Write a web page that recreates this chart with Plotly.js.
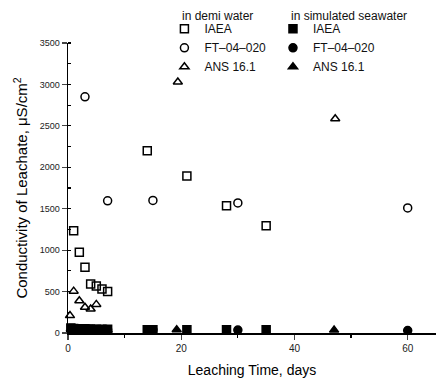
<!DOCTYPE html>
<html>
<head>
<meta charset="utf-8">
<script src="https://cdn.plot.ly/plotly-3.0.1.min.js"></script>
<style>html,body{margin:0;padding:0;background:#fff;}#chart{width:436px;height:384px;}</style>
</head>
<body>
<div id="chart"></div>
<script>
// demi water
const demiIaeaT = [1, 2, 3, 4, 5, 6, 7, 14, 21, 28, 35];
const demiIaeaV = [1235, 975, 795, 590, 567, 530, 500, 2200, 1895, 1535, 1295];
const demiFtT = [3, 7, 15, 30, 60];
const demiFtV = [2850, 1595, 1600, 1570, 1510];
const demiAnsT = [0.35, 1, 2, 3, 4, 5, 19.4, 47.2];
const demiAnsV = [210, 505, 390, 310, 290, 345, 3030, 2585];
// simulated seawater
const seaIaeaT = [0.5, 1, 2, 3, 4, 5, 6, 7, 14, 15, 21, 28, 35];
const seaIaeaV = [60, 55, 50, 50, 48, 45, 45, 45, 40, 40, 38, 40, 38];
const seaFtT = [1, 2, 3, 4, 5, 6, 7, 15, 30, 60];
const seaFtV = [50, 48, 45, 45, 42, 40, 40, 38, 35, 30];
const seaAnsT = [0.5, 1, 2, 3, 4, 5, 6, 7, 19.2, 47];
const seaAnsV = [45, 45, 42, 40, 40, 38, 38, 36, 40, 35];
const names = ['IAEA', 'FT\u201304\u2013020', 'ANS 16.1'];
const groupHeaders = ['in demi water', 'in simulated seawater'];

function tr(x, y, name, symbol, legend) {
  return {
    x: x, y: y, name: name, type: 'scatter', mode: 'markers', legend: legend,
    cliponaxis: false,
    marker: {symbol: symbol, size: 8, color: '#000', line: {color: '#000', width: 1.5}}
  };
}
const data = [
  tr(demiIaeaT, demiIaeaV, names[0], 'square-open', 'legend'),
  tr(demiFtT, demiFtV, names[1], 'circle-open', 'legend'),
  tr(demiAnsT, demiAnsV, names[2], 'triangle-up-open', 'legend'),
  tr(seaIaeaT, seaIaeaV, names[0], 'square', 'legend2'),
  tr(seaFtT, seaFtV, names[1], 'circle', 'legend2'),
  tr(seaAnsT, seaAnsV, names[2], 'triangle-up', 'legend2')
];
const font = {family: 'Liberation Sans, Arial, sans-serif', color: '#000'};
const legendBase = {
  bgcolor: 'rgba(0,0,0,0)', borderwidth: 0, xanchor: 'left', yanchor: 'top',
  font: {family: font.family, size: 12, color: '#111'}, itemwidth: 30, tracegroupgap: 0
};
const layout = {
  width: 436, height: 384,
  margin: {l: 68, r: 0, t: 43, b: 51},
  paper_bgcolor: '#fff', plot_bgcolor: '#fff',
  font: font,
  showlegend: true,
  xaxis: {
    range: [0, 65], tickvals: [0, 20, 40, 60], ticks: 'outside', ticklen: 5, tickwidth: 1.2,
    showline: true, linecolor: '#000', linewidth: 1.5, showgrid: false, zeroline: false,
    tickfont: {size: 10, color: '#222'},
    minor: {tickvals: [10, 30, 50], ticks: 'outside', ticklen: 3, tickcolor: '#000'},
    title: {text: 'Leaching Time, days', font: {size: 14}, standoff: 12}
  },
  yaxis: {
    range: [0, 3500], tickvals: [0, 500, 1000, 1500, 2000, 2500, 3000, 3500], ticks: 'outside',
    ticklen: 5, tickwidth: 1.2, showline: true, linecolor: '#000', linewidth: 1.5,
    showgrid: false, zeroline: false, tickfont: {size: 9, color: '#222'},
    minor: {dtick: 250, ticks: 'inside', ticklen: 3, tickcolor: '#000'},
    title: {text: 'Conductivity of Leachate, \u03bcS/cm<sup>2</sup>', font: {size: 15}, standoff: 8}
  },
  legend: Object.assign({}, legendBase, {x: 0.262, y: 1.099}),
  legend2: Object.assign({}, legendBase, {x: 0.557, y: 1.099}),
  annotations: [
    {text: groupHeaders[0], xref: 'paper', yref: 'paper', x: 0.305, y: 1.094, xanchor: 'left', yanchor: 'middle', showarrow: false, font: {size: 12, color: '#111'}},
    {text: groupHeaders[1], xref: 'paper', yref: 'paper', x: 0.6, y: 1.094, xanchor: 'left', yanchor: 'middle', showarrow: false, font: {size: 12, color: '#111'}}
  ]
};
Plotly.newPlot('chart', data, layout, {displayModeBar: false, staticPlot: true});
</script>
</body>
</html>
